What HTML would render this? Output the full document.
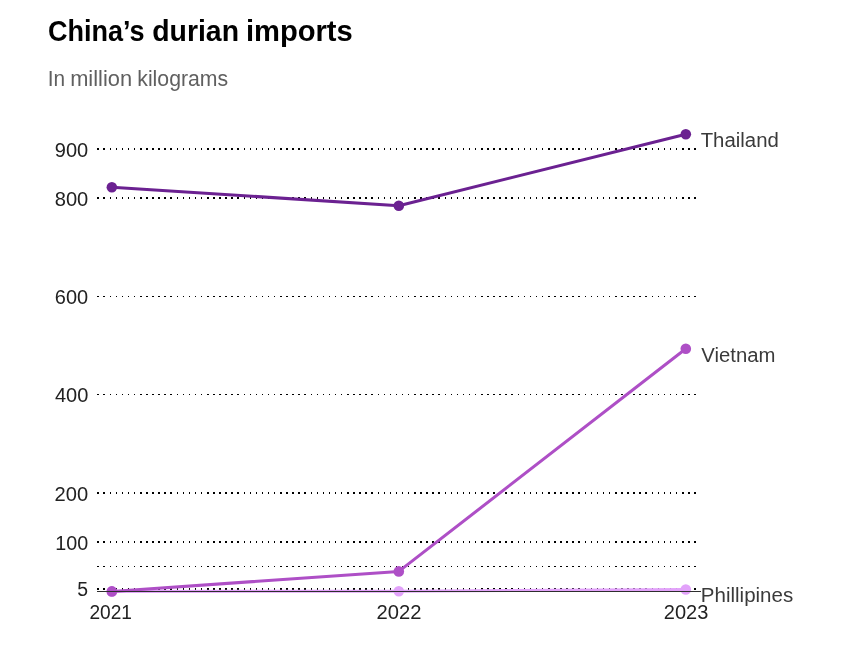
<!DOCTYPE html>
<html lang="en"><head><meta charset="utf-8"><title>China's durian imports</title>
<style>
html,body{margin:0;padding:0;background:#fff;}
body{width:841px;height:655px;overflow:hidden;font-family:"Liberation Sans",sans-serif;}
svg{display:block;position:absolute;left:0;top:0;}
.title{font-weight:700;font-size:30.4px;fill:#000;}
.sub{font-size:21.2px;fill:#606060;}
.tick{font-size:19.3px;fill:#222;}
.xt{font-size:19.3px;fill:#222;}
.lab{font-size:20px;fill:#3a3a3a;}
</style></head><body>
<svg width="841" height="655" viewBox="0 0 841 655" font-family="'Liberation Sans',sans-serif">
<rect width="841" height="655" fill="#fff"/>

<text class="title" x="47.93" y="40.5" textLength="96.69" lengthAdjust="spacingAndGlyphs">China’s</text>
<text class="title" x="152.21" y="40.5" textLength="86.79" lengthAdjust="spacingAndGlyphs">durian</text>
<text class="title" x="245.91" y="40.5" textLength="106.89" lengthAdjust="spacingAndGlyphs">imports</text>
<text class="sub" x="47.74" y="85.9" textLength="17.36" lengthAdjust="spacingAndGlyphs">In</text>
<text class="sub" x="70.15" y="85.9" textLength="61.94" lengthAdjust="spacingAndGlyphs">million</text>
<text class="sub" x="137.28" y="85.9" textLength="90.94" lengthAdjust="spacingAndGlyphs">kilograms</text>
<g stroke="#000" shape-rendering="crispEdges" fill="none">
<path stroke-width="2" d="M97 149h2M103 149h2M110 149h1M116 149h1M122 149h1M128 149h1M134 149h1M140 149h2M146 149h2M152 149h2M158 149h2M164 149h2M170 149h2M177 149h1M183 149h1M189 149h1M195 149h1M201 149h1M207 149h2M213 149h2M219 149h2M225 149h2M231 149h2M237 149h2M244 149h1M250 149h1M256 149h1M262 149h1M268 149h1M274 149h1M280 149h2M286 149h2M292 149h2M298 149h2M304 149h2M311 149h1M317 149h1M323 149h1M329 149h1M335 149h1M341 149h1M347 149h2M353 149h2M359 149h2M365 149h2M371 149h2M378 149h1M384 149h1M390 149h1M396 149h1M402 149h1M408 149h1M414 149h2M420 149h2M426 149h2M432 149h2M438 149h2M445 149h1M451 149h1M457 149h1M463 149h1M469 149h1M475 149h1M481 149h2M487 149h2M493 149h2M499 149h2M505 149h2M511 149h2M518 149h1M524 149h1M530 149h1M536 149h1M542 149h1M548 149h2M554 149h2M560 149h2M566 149h2M572 149h2M578 149h2M585 149h1M591 149h1M597 149h1M603 149h1M609 149h1M615 149h2M621 149h2M627 149h2M633 149h2M639 149h2M645 149h2M652 149h1M658 149h1M664 149h1M670 149h1M676 149h1M682 149h2M688 149h2M694 149h2"/>
<path stroke-width="2" d="M97 198h2M103 198h2M110 198h1M116 198h1M122 198h1M128 198h1M134 198h1M140 198h2M146 198h2M152 198h2M158 198h2M164 198h2M170 198h2M177 198h1M183 198h1M189 198h1M195 198h1M201 198h1M207 198h2M213 198h2M219 198h2M225 198h2M231 198h2M237 198h2M244 198h1M250 198h1M256 198h1M262 198h1M268 198h1M274 198h1M280 198h2M286 198h2M292 198h2M298 198h2M304 198h2M311 198h1M317 198h1M323 198h1M329 198h1M335 198h1M341 198h1M347 198h2M353 198h2M359 198h2M365 198h2M371 198h2M378 198h1M384 198h1M390 198h1M396 198h1M402 198h1M408 198h1M414 198h2M420 198h2M426 198h2M432 198h2M438 198h2M445 198h1M451 198h1M457 198h1M463 198h1M469 198h1M475 198h1M481 198h2M487 198h2M493 198h2M499 198h2M505 198h2M511 198h2M518 198h1M524 198h1M530 198h1M536 198h1M542 198h1M548 198h2M554 198h2M560 198h2M566 198h2M572 198h2M578 198h2M585 198h1M591 198h1M597 198h1M603 198h1M609 198h1M615 198h2M621 198h2M627 198h2M633 198h2M639 198h2M645 198h2M652 198h1M658 198h1M664 198h1M670 198h1M676 198h1M682 198h2M688 198h2M694 198h2"/>
<path stroke-width="1" d="M97 296.5h2M103 296.5h2M110 296.5h1M116 296.5h1M122 296.5h1M128 296.5h1M134 296.5h1M140 296.5h2M146 296.5h2M152 296.5h2M158 296.5h2M164 296.5h2M170 296.5h2M177 296.5h1M183 296.5h1M189 296.5h1M195 296.5h1M201 296.5h1M207 296.5h2M213 296.5h2M219 296.5h2M225 296.5h2M231 296.5h2M237 296.5h2M244 296.5h1M250 296.5h1M256 296.5h1M262 296.5h1M268 296.5h1M274 296.5h1M280 296.5h2M286 296.5h2M292 296.5h2M298 296.5h2M304 296.5h2M311 296.5h1M317 296.5h1M323 296.5h1M329 296.5h1M335 296.5h1M341 296.5h1M347 296.5h2M353 296.5h2M359 296.5h2M365 296.5h2M371 296.5h2M378 296.5h1M384 296.5h1M390 296.5h1M396 296.5h1M402 296.5h1M408 296.5h1M414 296.5h2M420 296.5h2M426 296.5h2M432 296.5h2M438 296.5h2M445 296.5h1M451 296.5h1M457 296.5h1M463 296.5h1M469 296.5h1M475 296.5h1M481 296.5h2M487 296.5h2M493 296.5h2M499 296.5h2M505 296.5h2M511 296.5h2M518 296.5h1M524 296.5h1M530 296.5h1M536 296.5h1M542 296.5h1M548 296.5h2M554 296.5h2M560 296.5h2M566 296.5h2M572 296.5h2M578 296.5h2M585 296.5h1M591 296.5h1M597 296.5h1M603 296.5h1M609 296.5h1M615 296.5h2M621 296.5h2M627 296.5h2M633 296.5h2M639 296.5h2M645 296.5h2M652 296.5h1M658 296.5h1M664 296.5h1M670 296.5h1M676 296.5h1M682 296.5h2M688 296.5h2M694 296.5h2"/>
<path stroke-width="1" d="M97 394.5h2M103 394.5h2M110 394.5h1M116 394.5h1M122 394.5h1M128 394.5h1M134 394.5h1M140 394.5h2M146 394.5h2M152 394.5h2M158 394.5h2M164 394.5h2M170 394.5h2M177 394.5h1M183 394.5h1M189 394.5h1M195 394.5h1M201 394.5h1M207 394.5h2M213 394.5h2M219 394.5h2M225 394.5h2M231 394.5h2M237 394.5h2M244 394.5h1M250 394.5h1M256 394.5h1M262 394.5h1M268 394.5h1M274 394.5h1M280 394.5h2M286 394.5h2M292 394.5h2M298 394.5h2M304 394.5h2M311 394.5h1M317 394.5h1M323 394.5h1M329 394.5h1M335 394.5h1M341 394.5h1M347 394.5h2M353 394.5h2M359 394.5h2M365 394.5h2M371 394.5h2M378 394.5h1M384 394.5h1M390 394.5h1M396 394.5h1M402 394.5h1M408 394.5h1M414 394.5h2M420 394.5h2M426 394.5h2M432 394.5h2M438 394.5h2M445 394.5h1M451 394.5h1M457 394.5h1M463 394.5h1M469 394.5h1M475 394.5h1M481 394.5h2M487 394.5h2M493 394.5h2M499 394.5h2M505 394.5h2M511 394.5h2M518 394.5h1M524 394.5h1M530 394.5h1M536 394.5h1M542 394.5h1M548 394.5h2M554 394.5h2M560 394.5h2M566 394.5h2M572 394.5h2M578 394.5h2M585 394.5h1M591 394.5h1M597 394.5h1M603 394.5h1M609 394.5h1M615 394.5h2M621 394.5h2M627 394.5h2M633 394.5h2M639 394.5h2M645 394.5h2M652 394.5h1M658 394.5h1M664 394.5h1M670 394.5h1M676 394.5h1M682 394.5h2M688 394.5h2M694 394.5h2"/>
<path stroke-width="2" d="M97 493h2M103 493h2M110 493h1M116 493h1M122 493h1M128 493h1M134 493h1M140 493h2M146 493h2M152 493h2M158 493h2M164 493h2M170 493h2M177 493h1M183 493h1M189 493h1M195 493h1M201 493h1M207 493h2M213 493h2M219 493h2M225 493h2M231 493h2M237 493h2M244 493h1M250 493h1M256 493h1M262 493h1M268 493h1M274 493h1M280 493h2M286 493h2M292 493h2M298 493h2M304 493h2M311 493h1M317 493h1M323 493h1M329 493h1M335 493h1M341 493h1M347 493h2M353 493h2M359 493h2M365 493h2M371 493h2M378 493h1M384 493h1M390 493h1M396 493h1M402 493h1M408 493h1M414 493h2M420 493h2M426 493h2M432 493h2M438 493h2M445 493h1M451 493h1M457 493h1M463 493h1M469 493h1M475 493h1M481 493h2M487 493h2M493 493h2M499 493h2M505 493h2M511 493h2M518 493h1M524 493h1M530 493h1M536 493h1M542 493h1M548 493h2M554 493h2M560 493h2M566 493h2M572 493h2M578 493h2M585 493h1M591 493h1M597 493h1M603 493h1M609 493h1M615 493h2M621 493h2M627 493h2M633 493h2M639 493h2M645 493h2M652 493h1M658 493h1M664 493h1M670 493h1M676 493h1M682 493h2M688 493h2M694 493h2"/>
<path stroke-width="2" d="M97 542h2M103 542h2M110 542h1M116 542h1M122 542h1M128 542h1M134 542h1M140 542h2M146 542h2M152 542h2M158 542h2M164 542h2M170 542h2M177 542h1M183 542h1M189 542h1M195 542h1M201 542h1M207 542h2M213 542h2M219 542h2M225 542h2M231 542h2M237 542h2M244 542h1M250 542h1M256 542h1M262 542h1M268 542h1M274 542h1M280 542h2M286 542h2M292 542h2M298 542h2M304 542h2M311 542h1M317 542h1M323 542h1M329 542h1M335 542h1M341 542h1M347 542h2M353 542h2M359 542h2M365 542h2M371 542h2M378 542h1M384 542h1M390 542h1M396 542h1M402 542h1M408 542h1M414 542h2M420 542h2M426 542h2M432 542h2M438 542h2M445 542h1M451 542h1M457 542h1M463 542h1M469 542h1M475 542h1M481 542h2M487 542h2M493 542h2M499 542h2M505 542h2M511 542h2M518 542h1M524 542h1M530 542h1M536 542h1M542 542h1M548 542h2M554 542h2M560 542h2M566 542h2M572 542h2M578 542h2M585 542h1M591 542h1M597 542h1M603 542h1M609 542h1M615 542h2M621 542h2M627 542h2M633 542h2M639 542h2M645 542h2M652 542h1M658 542h1M664 542h1M670 542h1M676 542h1M682 542h2M688 542h2M694 542h2"/>
<path stroke-width="1" d="M97 566.5h2M103 566.5h2M110 566.5h1M116 566.5h1M122 566.5h1M128 566.5h1M134 566.5h1M140 566.5h2M146 566.5h2M152 566.5h2M158 566.5h2M164 566.5h2M170 566.5h2M177 566.5h1M183 566.5h1M189 566.5h1M195 566.5h1M201 566.5h1M207 566.5h2M213 566.5h2M219 566.5h2M225 566.5h2M231 566.5h2M237 566.5h2M244 566.5h1M250 566.5h1M256 566.5h1M262 566.5h1M268 566.5h1M274 566.5h1M280 566.5h2M286 566.5h2M292 566.5h2M298 566.5h2M304 566.5h2M311 566.5h1M317 566.5h1M323 566.5h1M329 566.5h1M335 566.5h1M341 566.5h1M347 566.5h2M353 566.5h2M359 566.5h2M365 566.5h2M371 566.5h2M378 566.5h1M384 566.5h1M390 566.5h1M396 566.5h1M402 566.5h1M408 566.5h1M414 566.5h2M420 566.5h2M426 566.5h2M432 566.5h2M438 566.5h2M445 566.5h1M451 566.5h1M457 566.5h1M463 566.5h1M469 566.5h1M475 566.5h1M481 566.5h2M487 566.5h2M493 566.5h2M499 566.5h2M505 566.5h2M511 566.5h2M518 566.5h1M524 566.5h1M530 566.5h1M536 566.5h1M542 566.5h1M548 566.5h2M554 566.5h2M560 566.5h2M566 566.5h2M572 566.5h2M578 566.5h2M585 566.5h1M591 566.5h1M597 566.5h1M603 566.5h1M609 566.5h1M615 566.5h2M621 566.5h2M627 566.5h2M633 566.5h2M639 566.5h2M645 566.5h2M652 566.5h1M658 566.5h1M664 566.5h1M670 566.5h1M676 566.5h1M682 566.5h2M688 566.5h2M694 566.5h2"/>
<path stroke-width="2" d="M97 589h2M103 589h2M110 589h1M116 589h1M122 589h1M128 589h1M134 589h1M140 589h2M146 589h2M152 589h2M158 589h2M164 589h2M170 589h2M177 589h1M183 589h1M189 589h1M195 589h1M201 589h1M207 589h2M213 589h2M219 589h2M225 589h2M231 589h2M237 589h2M244 589h1M250 589h1M256 589h1M262 589h1M268 589h1M274 589h1M280 589h2M286 589h2M292 589h2M298 589h2M304 589h2M311 589h1M317 589h1M323 589h1M329 589h1M335 589h1M341 589h1M347 589h2M353 589h2M359 589h2M365 589h2M371 589h2M378 589h1M384 589h1M390 589h1M396 589h1M402 589h1M408 589h1M414 589h2M420 589h2M426 589h2M432 589h2M438 589h2M445 589h1M451 589h1M457 589h1M463 589h1M469 589h1M475 589h1M481 589h2M487 589h2M493 589h2M499 589h2M505 589h2M511 589h2M518 589h1M524 589h1M530 589h1M536 589h1M542 589h1M548 589h2M554 589h2M560 589h2M566 589h2M572 589h2M578 589h2M585 589h1M591 589h1M597 589h1M603 589h1M609 589h1M615 589h2M621 589h2M627 589h2M633 589h2M639 589h2M645 589h2M652 589h1M658 589h1M664 589h1M670 589h1M676 589h1M682 589h2M688 589h2M694 589h2"/>
</g>
<text class="tick" x="54.85" y="156.5" textLength="33.40" lengthAdjust="spacingAndGlyphs">900</text>
<text class="tick" x="54.77" y="205.5" textLength="33.54" lengthAdjust="spacingAndGlyphs">800</text>
<text class="tick" x="54.84" y="303.8" textLength="33.33" lengthAdjust="spacingAndGlyphs">600</text>
<text class="tick" x="54.92" y="402.1" textLength="33.41" lengthAdjust="spacingAndGlyphs">400</text>
<text class="tick" x="54.53" y="501.4" textLength="33.57" lengthAdjust="spacingAndGlyphs">200</text>
<text class="tick" x="55.30" y="549.5" textLength="32.93" lengthAdjust="spacingAndGlyphs">100</text>
<text class="tick" x="77.39" y="595.7" textLength="10.82" lengthAdjust="spacingAndGlyphs">5</text>
<polyline points="111.85,591.4 398.8,591.2 685.8,589.5" fill="none" stroke="#e2a2fa" stroke-width="3.05" stroke-linejoin="round" stroke-linecap="round"/><circle cx="111.85" cy="591.4" r="5.3" fill="#e2a2fa"/><circle cx="398.8" cy="591.2" r="5.3" fill="#e2a2fa"/><circle cx="685.8" cy="589.5" r="5.3" fill="#e2a2fa"/>
<polyline points="111.85,591.4 398.8,571.4 685.8,348.7" fill="none" stroke="#ae4fc6" stroke-width="3.05" stroke-linejoin="round" stroke-linecap="round"/><circle cx="111.85" cy="591.4" r="5.3" fill="#ae4fc6"/><circle cx="398.8" cy="571.4" r="5.3" fill="#ae4fc6"/><circle cx="685.8" cy="348.7" r="5.3" fill="#ae4fc6"/>
<polyline points="111.85,187.2 398.8,205.7 685.8,134.3" fill="none" stroke="#6b2191" stroke-width="3.05" stroke-linejoin="round" stroke-linecap="round"/><circle cx="111.85" cy="187.2" r="5.3" fill="#6b2191"/><circle cx="398.8" cy="205.7" r="5.3" fill="#6b2191"/><circle cx="685.8" cy="134.3" r="5.3" fill="#6b2191"/>
<rect x="97" y="591" width="604" height="1" fill="#2e2e2e" shape-rendering="crispEdges"/>
<text class="xt" x="89.43" y="618.8" textLength="42.58" lengthAdjust="spacingAndGlyphs">2021</text>
<text class="xt" x="376.53" y="618.8" textLength="44.89" lengthAdjust="spacingAndGlyphs">2022</text>
<text class="xt" x="663.80" y="618.8" textLength="44.55" lengthAdjust="spacingAndGlyphs">2023</text>
<text class="lab" x="700.70" y="146.7" textLength="78.08" lengthAdjust="spacingAndGlyphs">Thailand</text>
<text class="lab" x="701.33" y="361.7" textLength="74.07" lengthAdjust="spacingAndGlyphs">Vietnam</text>
<text class="lab" x="700.86" y="601.6" textLength="92.31" lengthAdjust="spacingAndGlyphs">Phillipines</text>
</svg></body></html>
